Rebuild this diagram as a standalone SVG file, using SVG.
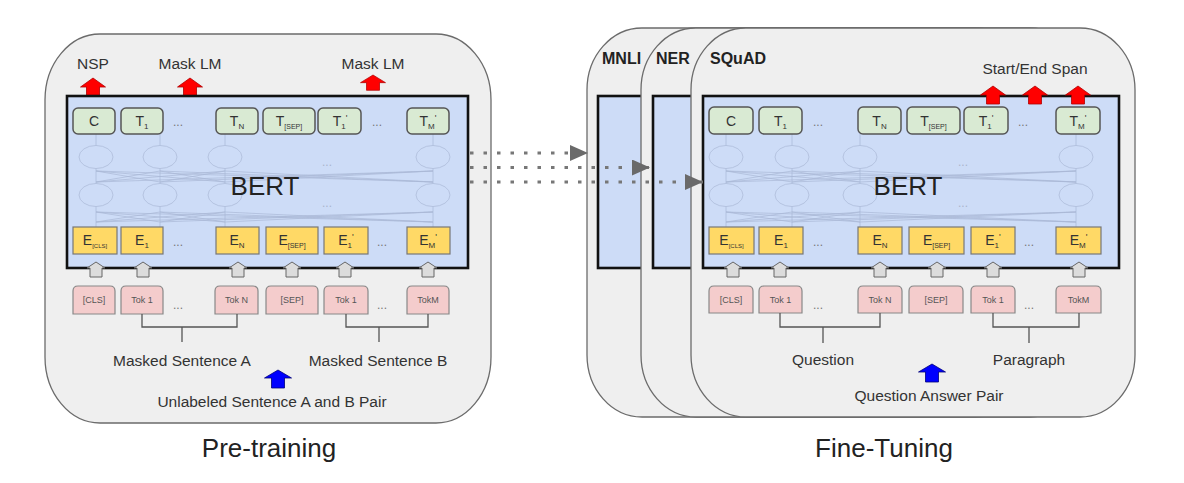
<svg xmlns="http://www.w3.org/2000/svg" xmlns:xlink="http://www.w3.org/1999/xlink" width="1184" height="483" viewBox="0 0 1184 483">
<style>
text{font-family:"Liberation Sans",Arial,sans-serif;fill:#333}
.panel{fill:#efefef;stroke:#6b6b6b;stroke-width:1.3}
.bert{fill:#cddcf7;stroke:#111;stroke-width:2.6}
.tb{fill:#d9ead3;stroke:#555;stroke-width:1.5}
.eb{fill:#ffd966;stroke:#777;stroke-width:1.2}
.tk{fill:#f4cccc;stroke:#888;stroke-width:1.2}
.ga{fill:#dcdcdc;stroke:#666;stroke-width:1}
.ra{fill:#ff0000;stroke:#b00000;stroke-width:0.8}
.ba{fill:#0000ff;stroke:#00007a;stroke-width:0.8}
.net{fill:none;stroke:#a9b8d6;stroke-width:1;opacity:0.7}
.br{fill:none;stroke:#555;stroke-width:1.3}
.lbl{font-size:15.5px;text-anchor:middle}
.big{font-size:26px;text-anchor:middle;fill:#222}
.task{font-size:16px;font-weight:bold;fill:#222}
.tt{font-size:14px;text-anchor:middle;fill:#333}
.et{font-size:14px;text-anchor:middle;fill:#333}
.kt{font-size:9px;text-anchor:middle;fill:#555}
.dots{font-size:12px;text-anchor:middle;fill:#777}
.fd{font-size:12px;text-anchor:middle;fill:#aab4cc}
.conn{fill:none;stroke:#777;stroke-width:3;stroke-dasharray:3.5 10}
</style>
<defs>
<path id="ga" class="ga" d="M0,0 L9,6 L6,6 L6,15 L-6,15 L-6,6 L-9,6 Z"/>
<path id="ra" class="ra" d="M0,0 L12.5,9 L6.5,9 L6.5,18 L-6.5,18 L-6.5,9 L-12.5,9 Z"/>
<path id="ba" class="ba" d="M0,0 L13.5,8 L6.5,8 L6.5,18 L-6.5,18 L-6.5,8 L-13.5,8 Z"/>
<marker id="ah" markerUnits="userSpaceOnUse" markerWidth="20" markerHeight="18" refX="18" refY="8" orient="auto">
<path d="M0,0 L18,8 L0,16 Z" fill="#6a6a6a"/>
</marker>
</defs>

<!-- ============ PRE-TRAINING ============ -->
<g id="pretraining">
<rect class="panel" x="45" y="34" width="446" height="389" rx="55" ry="66"/>
<text class="lbl" x="93" y="69">NSP</text>
<text class="lbl" x="190" y="69">Mask LM</text>
<text class="lbl" x="373" y="69">Mask LM</text>
<use xlink:href="#ra" x="93" y="78"/>
<use xlink:href="#ra" x="190" y="78"/>
<path class="ra" transform="translate(373,75) scale(1,0.85)" d="M0,0 L12.5,9 L6.5,9 L6.5,18 L-6.5,18 L-6.5,9 L-12.5,9 Z"/>

<rect class="bert" x="67" y="96" width="401" height="172"/>
<g id="net-left">
<path class="net" d="M96,134V145.5M160,134V145.5M225,134V145.5M433,134V145.5
M96,168.5V183.5M160,168.5V183.5M225,168.5V183.5M433,168.5V183.5
M96,206.5V227M160,206.5V227M225,206.5V227M433,206.5V227
M96,171L160,182M96,171L225,182M96,171L433,182M160,171L96,182M160,171L225,182M160,171L433,182
M225,171L96,182M225,171L160,182M225,171L433,182M433,171L96,182M433,171L160,182M433,171L225,182
M96,212L160,222M96,212L225,222M96,212L433,222M160,212L96,222M160,212L225,222M160,212L433,222
M225,212L96,222M225,212L160,222M225,212L433,222M433,212L96,222M433,212L160,222M433,212L225,222"/>
<ellipse class="net" cx="96" cy="157" rx="17" ry="11.5"/>
<ellipse class="net" cx="160" cy="157" rx="17" ry="11.5"/>
<ellipse class="net" cx="225" cy="157" rx="17" ry="11.5"/>
<ellipse class="net" cx="433" cy="157" rx="17" ry="11.5"/>
<ellipse class="net" cx="96" cy="195" rx="17" ry="11.5"/>
<ellipse class="net" cx="160" cy="195" rx="17" ry="11.5"/>
<ellipse class="net" cx="225" cy="195" rx="17" ry="11.5"/>
<ellipse class="net" cx="433" cy="195" rx="17" ry="11.5"/>
<text class="fd" x="327" y="166">...</text>
<text class="fd" x="327" y="207">...</text>
</g>
<text class="big" x="265" y="195">BERT</text>

<g id="left-T">
<rect class="tb" x="73" y="108" width="42" height="26" rx="5"/>
<text class="tt" x="94" y="126">C</text>
<rect class="tb" x="121" y="108" width="42" height="26" rx="5"/>
<text class="tt" x="142" y="126">T<tspan font-size="8" dy="3">1</tspan></text>
<text class="dots" x="178" y="126">...</text>
<rect class="tb" x="216" y="108" width="42" height="26" rx="5"/>
<text class="tt" x="237" y="126">T<tspan font-size="8" dy="3">N</tspan></text>
<rect class="tb" x="263" y="108" width="52" height="26" rx="5"/>
<text class="tt" x="289" y="126">T<tspan font-size="7" dy="3">[SEP]</tspan></text>
<rect class="tb" x="318" y="108" width="43" height="26" rx="5"/>
<text class="tt" x="340" y="126">T<tspan font-size="8" dy="3">1</tspan><tspan font-size="9" dy="-8">'</tspan></text>
<text class="dots" x="377" y="126">...</text>
<rect class="tb" x="407" y="108" width="42" height="26" rx="5"/>
<text class="tt" x="428" y="126">T<tspan font-size="8" dy="3">M</tspan><tspan font-size="9" dy="-8">'</tspan></text>
</g>

<g id="left-E">
<rect class="eb" x="73" y="227" width="44" height="27"/>
<text class="et" x="95" y="245">E<tspan font-size="6" dy="3">[CLS]</tspan></text>
<rect class="eb" x="121" y="227" width="42" height="27"/>
<text class="et" x="142" y="245">E<tspan font-size="8" dy="3">1</tspan></text>
<text class="dots" x="178" y="246">...</text>
<rect class="eb" x="216" y="227" width="43" height="27"/>
<text class="et" x="237" y="245">E<tspan font-size="8" dy="3">N</tspan></text>
<rect class="eb" x="266" y="227" width="52" height="27"/>
<text class="et" x="292" y="245">E<tspan font-size="7" dy="3">[SEP]</tspan></text>
<rect class="eb" x="324" y="227" width="44" height="27"/>
<text class="et" x="346" y="245">E<tspan font-size="8" dy="3">1</tspan><tspan font-size="9" dy="-8">'</tspan></text>
<text class="dots" x="382" y="246">...</text>
<rect class="eb" x="407" y="227" width="43" height="27"/>
<text class="et" x="428" y="245">E<tspan font-size="8" dy="3">M</tspan><tspan font-size="9" dy="-8">'</tspan></text>
</g>

<g id="left-arrows">
<use xlink:href="#ga" x="96" y="262"/>
<use xlink:href="#ga" x="143" y="262"/>
<use xlink:href="#ga" x="238" y="262"/>
<use xlink:href="#ga" x="292" y="262"/>
<use xlink:href="#ga" x="345" y="262"/>
<use xlink:href="#ga" x="428" y="262"/>
</g>

<g id="left-Tok">
<path class="tk" d="M73,314V291Q73,286 78,286H110Q115,286 115,291V314Z"/>
<text class="kt" x="94" y="303">[CLS]</text>
<path class="tk" d="M121,314V291Q121,286 126,286H158Q163,286 163,291V314Z"/>
<text class="kt" x="142" y="303">Tok 1</text>
<text class="dots" x="178" y="309">...</text>
<path class="tk" d="M215,314V291Q215,286 220,286H253Q258,286 258,291V314Z"/>
<text class="kt" x="236.5" y="303">Tok N</text>
<path class="tk" d="M266,314V291Q266,286 271,286H313Q318,286 318,291V314Z"/>
<text class="kt" x="292" y="303">[SEP]</text>
<path class="tk" d="M324,314V291Q324,286 329,286H363Q368,286 368,291V314Z"/>
<text class="kt" x="346" y="303">Tok 1</text>
<text class="dots" x="382" y="309">...</text>
<path class="tk" d="M407,314V291Q407,286 412,286H444Q449,286 449,291V314Z"/>
<text class="kt" x="428" y="303">TokM</text>
</g>

<path class="br" d="M142,314V327H237V314M182,327V342"/>
<path class="br" d="M346,314V327H428V314M379,327V342"/>
<text class="lbl" x="182" y="366">Masked Sentence A</text>
<text class="lbl" x="378" y="366">Masked Sentence B</text>
<use xlink:href="#ba" x="278" y="370"/>
<text class="lbl" x="272" y="407">Unlabeled Sentence A and B Pair</text>
</g>
<text class="big" x="269" y="457">Pre-training</text>

<!-- ============ FINE-TUNING ============ -->
<g id="mnli">
<rect class="panel" x="587" y="28" width="444" height="389" rx="55" ry="62"/>
<rect class="bert" x="598" y="96" width="400" height="172"/>
<text class="task" x="602" y="64">MNLI</text>
</g>
<g id="ner">
<rect class="panel" x="641" y="28" width="444" height="389" rx="55" ry="62"/>
<rect class="bert" x="653" y="96" width="400" height="172"/>
<text class="task" x="656" y="64">NER</text>
</g>
<g id="squad">
<rect class="panel" x="691" y="28" width="444" height="389" rx="55" ry="62"/>
<text class="task" x="710" y="64">SQuAD</text>
<text class="lbl" x="1035" y="74">Start/End Span</text>
<rect class="bert" x="703" y="96" width="416" height="172"/>
<use xlink:href="#ra" x="993" y="86"/>
<use xlink:href="#ra" x="1035" y="86"/>
<use xlink:href="#ra" x="1078" y="86"/>
<g id="net-right">
<path class="net" d="M726,134V145.5M792,134V145.5M860,134V145.5M1076,134V145.5
M726,168.5V183.5M792,168.5V183.5M860,168.5V183.5M1076,168.5V183.5
M726,206.5V227M792,206.5V227M860,206.5V227M1076,206.5V227
M726,171L792,182M726,171L860,182M726,171L1076,182M792,171L726,182M792,171L860,182M792,171L1076,182
M860,171L726,182M860,171L792,182M860,171L1076,182M1076,171L726,182M1076,171L792,182M1076,171L860,182
M726,212L792,222M726,212L860,222M726,212L1076,222M792,212L726,222M792,212L860,222M792,212L1076,222
M860,212L726,222M860,212L792,222M860,212L1076,222M1076,212L726,222M1076,212L792,222M1076,212L860,222"/>
<ellipse class="net" cx="726" cy="157" rx="17" ry="11.5"/>
<ellipse class="net" cx="792" cy="157" rx="17" ry="11.5"/>
<ellipse class="net" cx="860" cy="157" rx="17" ry="11.5"/>
<ellipse class="net" cx="1076" cy="157" rx="17" ry="11.5"/>
<ellipse class="net" cx="726" cy="195" rx="17" ry="11.5"/>
<ellipse class="net" cx="792" cy="195" rx="17" ry="11.5"/>
<ellipse class="net" cx="860" cy="195" rx="17" ry="11.5"/>
<ellipse class="net" cx="1076" cy="195" rx="17" ry="11.5"/>
<text class="fd" x="963" y="166">...</text>
<text class="fd" x="963" y="207">...</text>
</g>
<text class="big" x="908" y="195">BERT</text>

<g id="right-T">
<rect class="tb" x="709" y="107" width="44" height="27" rx="5"/>
<text class="tt" x="731" y="126">C</text>
<rect class="tb" x="759" y="107" width="43" height="27" rx="5"/>
<text class="tt" x="780.5" y="126">T<tspan font-size="8" dy="3">1</tspan></text>
<text class="dots" x="818" y="126">...</text>
<rect class="tb" x="858" y="107" width="43" height="27" rx="5"/>
<text class="tt" x="879.5" y="126">T<tspan font-size="8" dy="3">N</tspan></text>
<rect class="tb" x="907" y="107" width="53" height="27" rx="5"/>
<text class="tt" x="933.5" y="126">T<tspan font-size="7" dy="3">[SEP]</tspan></text>
<rect class="tb" x="964" y="107" width="44" height="27" rx="5"/>
<text class="tt" x="986" y="126">T<tspan font-size="8" dy="3">1</tspan><tspan font-size="9" dy="-8">'</tspan></text>
<text class="dots" x="1023" y="126">...</text>
<rect class="tb" x="1056" y="107" width="44" height="27" rx="5"/>
<text class="tt" x="1078" y="126">T<tspan font-size="8" dy="3">M</tspan><tspan font-size="9" dy="-8">'</tspan></text>
</g>

<g id="right-E">
<rect class="eb" x="709" y="227" width="45" height="27"/>
<text class="et" x="731.5" y="245">E<tspan font-size="6" dy="3">[CLS]</tspan></text>
<rect class="eb" x="759" y="227" width="44" height="27"/>
<text class="et" x="781" y="245">E<tspan font-size="8" dy="3">1</tspan></text>
<text class="dots" x="818" y="246">...</text>
<rect class="eb" x="858" y="227" width="44" height="27"/>
<text class="et" x="880" y="245">E<tspan font-size="8" dy="3">N</tspan></text>
<rect class="eb" x="909" y="227" width="55" height="27"/>
<text class="et" x="936.5" y="245">E<tspan font-size="7" dy="3">[SEP]</tspan></text>
<rect class="eb" x="971" y="227" width="44" height="27"/>
<text class="et" x="993" y="245">E<tspan font-size="8" dy="3">1</tspan><tspan font-size="9" dy="-8">'</tspan></text>
<text class="dots" x="1029" y="246">...</text>
<rect class="eb" x="1056" y="227" width="45" height="27"/>
<text class="et" x="1078.5" y="245">E<tspan font-size="8" dy="3">M</tspan><tspan font-size="9" dy="-8">'</tspan></text>
</g>

<g id="right-arrows">
<use xlink:href="#ga" x="733" y="262"/>
<use xlink:href="#ga" x="780" y="262"/>
<use xlink:href="#ga" x="880" y="262"/>
<use xlink:href="#ga" x="937" y="262"/>
<use xlink:href="#ga" x="993" y="262"/>
<use xlink:href="#ga" x="1079" y="262"/>
</g>

<g id="right-Tok">
<path class="tk" d="M709,313V291Q709,286 714,286H748Q753,286 753,291V313Z"/>
<text class="kt" x="731" y="303">[CLS]</text>
<path class="tk" d="M759,313V291Q759,286 764,286H797Q802,286 802,291V313Z"/>
<text class="kt" x="780.5" y="303">Tok 1</text>
<text class="dots" x="818" y="309">...</text>
<path class="tk" d="M858,313V291Q858,286 863,286H897Q902,286 902,291V313Z"/>
<text class="kt" x="880" y="303">Tok N</text>
<path class="tk" d="M909,313V291Q909,286 914,286H958Q963,286 963,291V313Z"/>
<text class="kt" x="936" y="303">[SEP]</text>
<path class="tk" d="M971,313V291Q971,286 976,286H1010Q1015,286 1015,291V313Z"/>
<text class="kt" x="993" y="303">Tok 1</text>
<text class="dots" x="1029" y="309">...</text>
<path class="tk" d="M1056,313V291Q1056,286 1061,286H1096Q1101,286 1101,291V313Z"/>
<text class="kt" x="1078.5" y="303">TokM</text>
</g>

<path class="br" d="M780,313V327H880V313M823,327V343"/>
<path class="br" d="M993,313V327H1079V313M1029,327V343"/>
<text class="lbl" x="823" y="365">Question</text>
<text class="lbl" x="1029" y="365">Paragraph</text>
<use xlink:href="#ba" x="932" y="364"/>
<text class="lbl" x="929" y="401">Question Answer Pair</text>
</g>
<text class="big" x="884" y="457">Fine-Tuning</text>

<g id="connectors">
<path class="conn" d="M470,153H588" marker-end="url(#ah)"/>
<path class="conn" d="M470,167.5H650" marker-end="url(#ah)"/>
<path class="conn" d="M470,182H703" marker-end="url(#ah)"/>
</g>
</svg>
